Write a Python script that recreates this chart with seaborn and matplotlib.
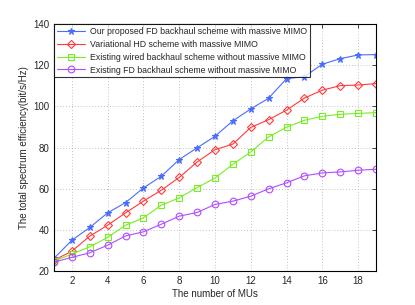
import matplotlib
matplotlib.use("Agg")
import matplotlib.pyplot as plt
import seaborn as sns
import pandas as pd

mus = list(range(1, 20))
proposed_fd = [26.2, 35.0, 41.2, 48.3, 53.3, 60.4, 66.1, 74.2, 79.9, 85.5,
               93.0, 98.8, 104.0, 113.5, 114.5, 120.5, 123.2, 125.0, 125.2]
variational_hd = [25.3, 29.7, 37.0, 42.3, 48.3, 54.0, 59.3, 65.5, 73.0, 79.0,
                  81.7, 89.8, 93.6, 98.2, 104.1, 107.9, 110.1, 110.4, 111.1]
wired_no_mimo = [24.9, 28.3, 31.8, 36.4, 42.3, 45.9, 52.0, 55.6, 60.6, 65.2,
                 71.9, 77.9, 85.2, 89.9, 93.3, 95.2, 96.2, 96.6, 97.0]
fd_no_mimo = [24.4, 26.7, 28.9, 32.6, 37.1, 39.1, 42.8, 46.7, 48.5, 52.4,
              54.0, 56.4, 60.0, 62.9, 66.3, 67.7, 68.2, 69.0, 69.5]

labels = ["Our proposed FD backhaul scheme with massive MIMO",
          "Variational HD scheme with massive MIMO",
          "Existing wired backhaul scheme without massive MIMO",
          "Existing FD backhaul scheme without massive MIMO"]
xticks = [2, 4, 6, 8, 10, 12, 14, 16, 18]
yticks = [20, 40, 60, 80, 100, 120, 140]

sns.set_style("white")
plt.rcParams['font.family'] = ['Liberation Sans', 'DejaVu Sans']

rows = []
for lab, vals in zip(labels, [proposed_fd, variational_hd, wired_no_mimo, fd_no_mimo]):
    for x, v in zip(mus, vals):
        rows.append({"x": x, "y": v, "scheme": lab})
df = pd.DataFrame(rows)

colors = ["#4a6cff", "#ff3a3a", "#77ee22", "#b04cff"]
markers = ["*", "D", "s", "o"]
sizes = [4.5, 4.0, 4.3, 4.8]

fig = plt.figure(figsize=(4.15, 3.05), dpi=100)
ax = fig.add_axes([0.130, 0.111, 0.776, 0.810])

for lab, c, m, ms in zip(labels, colors, markers, sizes):
    sub = df[df["scheme"] == lab]
    sns.lineplot(data=sub, x="x", y="y", ax=ax, color=c, marker=m,
                 markersize=ms, markerfacecolor="none" if m != "*" else c,
                 markeredgecolor=c, markeredgewidth=0.8, linewidth=0.8,
                 label=lab, legend=False)

ax.set_xlim(1, 19)
ax.set_ylim(20, 140)
ax.set_xticks(xticks)
ax.set_yticks(yticks)
ax.tick_params(direction="in", labelsize=7, length=3, width=0.6, top=True, right=True)
ax.grid(True, linestyle=(0, (1, 2.5)), color="#b0b0b0", linewidth=0.6)
for s in ax.spines.values():
    s.set_color("black")
    s.set_linewidth(0.8)
ax.set_xlabel("The number of MUs", fontsize=7, labelpad=2)
ax.set_ylabel("The total spectrum efficiency(bit/s/Hz)", fontsize=7, labelpad=3)

leg = ax.legend(loc="upper left", fontsize=6.3, frameon=True, fancybox=False,
                edgecolor="black", borderpad=0.3, labelspacing=0.45,
                handlelength=3.3, handletextpad=0.5, borderaxespad=0.0)
leg.get_frame().set_linewidth(0.8)

fig.savefig("out.png", dpi=100)
